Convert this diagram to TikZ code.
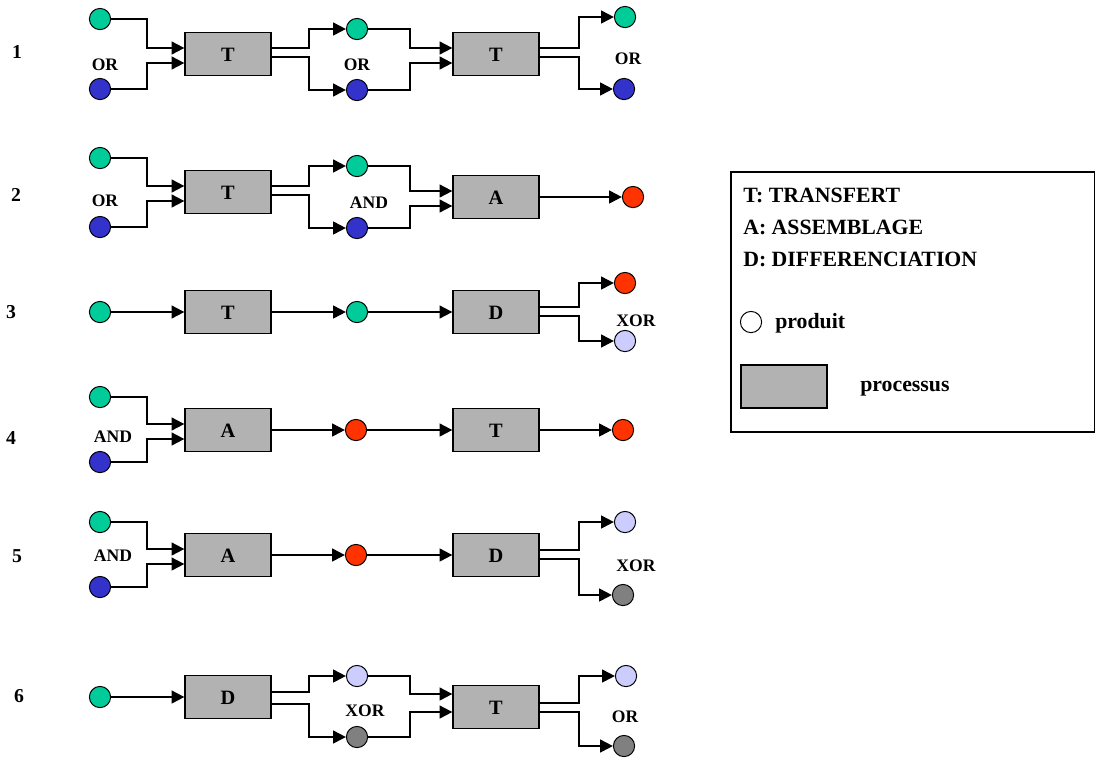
\documentclass[tikz,border=0pt]{standalone}
\usepackage{fontspec}
\setmainfont{Liberation Serif}
\usetikzlibrary{arrows.meta,calc}
\definecolor{vert}{RGB}{0,204,153}
\definecolor{bleu}{RGB}{51,51,204}
\definecolor{rouge}{RGB}{255,51,0}
\definecolor{lavande}{RGB}{204,204,255}
\definecolor{grisp}{RGB}{128,128,128}
\definecolor{grisbox}{RGB}{178,178,178}
\tikzset{
  prod/.style={circle,draw,line width=0.7pt,minimum size=5.3mm,inner sep=0pt},
  proc/.style={draw,line width=0.9pt,fill=grisbox,minimum width=21.5mm,
    minimum height=10.75mm,inner sep=0pt,text height=1.1em,text depth=0pt,
    font=\fontsize{14.5}{16}\selectfont\bfseries},
  fleche/.style={line width=1.4pt,-{Triangle[length=3.2mm,width=3.2mm]}},
  etiq/.style={font=\fontsize{12.5}{14}\selectfont\bfseries},
  num/.style={font=\fontsize{14}{16}\selectfont\bfseries},
  leg/.style={anchor=west,inner sep=0pt,font=\fontsize{15.5}{17}\selectfont\bfseries},
}

\begin{document}
\begin{tikzpicture}[x=0.025cm,y=-0.025cm]
  \useasboundingbox (0,0) rectangle (1096,758);
  % ligne 1
  \node[num] (n1) at (17,52) {1};
  \node[prod,fill=vert] (g11) at (100,19) {};
  \node[prod,fill=bleu] (b11) at (100,89) {};
  \node[etiq] (l11) at (105,65) {OR};
  \node[proc] (t11) at (228,54) {T};
  \node[prod,fill=vert] (g12) at (357,29) {};
  \node[prod,fill=bleu] (b12) at (357,90) {};
  \node[etiq] (l12) at (357,65) {OR};
  \node[proc] (t12) at (496,54) {T};
  \node[prod,fill=vert] (g13) at (625,17) {};
  \node[prod,fill=bleu] (b13) at (624,89) {};
  \node[etiq] (l13) at (628,59) {OR};
  \draw[fleche] (g11.east) -| ([xshift=-9.25mm,yshift=1.5mm]t11.west) -- ([yshift=1.5mm]t11.west);
  \draw[fleche] (b11.east) -| ([xshift=-9.25mm,yshift=-2.25mm]t11.west) -- ([yshift=-2.25mm]t11.west);
  \draw[fleche] ([yshift=1.5mm]t11.east) -- ++(9.25mm,0) |- (g12);
  \draw[fleche] ([yshift=-0.75mm]t11.east) -- ++(9.25mm,0) |- (b12);
  \draw[fleche] (g12.east) -| ([xshift=-10.5mm,yshift=1.5mm]t12.west) -- ([yshift=1.5mm]t12.west);
  \draw[fleche] (b12.east) -| ([xshift=-10.5mm,yshift=-2.25mm]t12.west) -- ([yshift=-2.25mm]t12.west);
  \draw[fleche] ([yshift=1.5mm]t12.east) -- ++(9.75mm,0) |- (g13);
  \draw[fleche] ([yshift=-0.75mm]t12.east) -- ++(9.75mm,0) |- (b13);
  % ligne 2
  \node[num] (n2) at (16,195) {2};
  \node[prod,fill=vert] (g21) at (100,158) {};
  \node[prod,fill=bleu] (b21) at (100,227) {};
  \node[etiq] (l21) at (105,201) {OR};
  \node[proc] (t21) at (228,192) {T};
  \node[prod,fill=vert] (g22) at (357,166) {};
  \node[prod,fill=bleu] (b22) at (357,228) {};
  \node[etiq] (l22) at (369,203) {AND};
  \node[proc] (a22) at (496,197) {A};
  \node[prod,fill=rouge] (r23) at (633,197) {};
  \draw[fleche] (g21.east) -| ([xshift=-9.25mm,yshift=1.5mm]t21.west) -- ([yshift=1.5mm]t21.west);
  \draw[fleche] (b21.east) -| ([xshift=-9.25mm,yshift=-2.25mm]t21.west) -- ([yshift=-2.25mm]t21.west);
  \draw[fleche] ([yshift=1.5mm]t21.east) -- ++(9.25mm,0) |- (g22);
  \draw[fleche] ([yshift=-0.75mm]t21.east) -- ++(9.25mm,0) |- (b22);
  \draw[fleche] (g22.east) -| ([xshift=-10.5mm,yshift=1.5mm]a22.west) -- ([yshift=1.5mm]a22.west);
  \draw[fleche] (b22.east) -| ([xshift=-10.5mm,yshift=-2.25mm]a22.west) -- ([yshift=-2.25mm]a22.west);
  \draw[fleche] (a22) -- (r23);
  % ligne 3
  \node[num] (n3) at (11,312) {3};
  \node[prod,fill=vert] (g31) at (100,312) {};
  \node[proc] (t31) at (228,312) {T};
  \node[prod,fill=vert] (g32) at (357,312) {};
  \node[proc] (d32) at (496,312) {D};
  \node[prod,fill=rouge] (r33) at (625,283) {};
  \node[prod,fill=lavande] (v33) at (625,341) {};
  \node[etiq] (l33) at (636,321) {XOR};
  \draw[fleche] (g31) -- (t31);
  \draw[fleche] (t31) -- (g32);
  \draw[fleche] (g32) -- (d32);
  \draw[fleche] ([yshift=1.25mm]d32.east) -- ++(9.75mm,0) |- (r33);
  \draw[fleche] ([yshift=-1mm]d32.east) -- ++(9.75mm,0) |- (v33);
  % ligne 4
  \node[num] (n4) at (11,438) {4};
  \node[prod,fill=vert] (g41) at (100,397) {};
  \node[prod,fill=bleu] (b41) at (100,462) {};
  \node[etiq] (l41) at (113,437) {AND};
  \node[proc] (a41) at (228,430) {A};
  \node[prod,fill=rouge] (r42) at (356,430) {};
  \node[proc] (t42) at (496,430) {T};
  \node[prod,fill=rouge] (r43) at (623,430) {};
  \draw[fleche] (g41.east) -| ([xshift=-9.25mm,yshift=1.5mm]a41.west) -- ([yshift=1.5mm]a41.west);
  \draw[fleche] (b41.east) -| ([xshift=-9.25mm,yshift=-2.25mm]a41.west) -- ([yshift=-2.25mm]a41.west);
  \draw[fleche] (a41) -- (r42);
  \draw[fleche] (r42) -- (t42);
  \draw[fleche] (t42) -- (r43);
  % ligne 5
  \node[num] (n5) at (17,556) {5};
  \node[prod,fill=vert] (g51) at (100,522) {};
  \node[prod,fill=bleu] (b51) at (100,587) {};
  \node[etiq] (l51) at (113,556) {AND};
  \node[proc] (a51) at (228,555) {A};
  \node[prod,fill=rouge] (r52) at (356,555) {};
  \node[proc] (d52) at (496,555) {D};
  \node[prod,fill=lavande] (v53) at (625,522) {};
  \node[prod,fill=grisp] (k53) at (623,595) {};
  \node[etiq] (l53) at (636,566) {XOR};
  \draw[fleche] (g51.east) -| ([xshift=-9.25mm,yshift=1.5mm]a51.west) -- ([yshift=1.5mm]a51.west);
  \draw[fleche] (b51.east) -| ([xshift=-9.25mm,yshift=-2.25mm]a51.west) -- ([yshift=-2.25mm]a51.west);
  \draw[fleche] (a51) -- (r52);
  \draw[fleche] (r52) -- (d52);
  \draw[fleche] ([yshift=1.25mm]d52.east) -- ++(9.75mm,0) |- (v53);
  \draw[fleche] ([yshift=-1mm]d52.east) -- ++(9.75mm,0) |- (k53);
  % ligne 6
  \node[num] (n6) at (19,696) {6};
  \node[prod,fill=vert] (g61) at (100,697) {};
  \node[proc] (d61) at (228,697) {D};
  \node[prod,fill=lavande] (v62) at (357,676) {};
  \node[prod,fill=grisp] (k62) at (357,737) {};
  \node[etiq] (l62) at (365,711) {XOR};
  \node[proc] (t62) at (496,707) {T};
  \node[prod,fill=lavande] (v63) at (626,676) {};
  \node[prod,fill=grisp] (k63) at (624,746) {};
  \node[etiq] (l63) at (625,717) {OR};
  \draw[fleche] (g61) -- (d61);
  \draw[fleche] ([yshift=1.25mm]d61.east) -- ++(9.25mm,0) |- (v62);
  \draw[fleche] ([yshift=-1.75mm]d61.east) -- ++(9.25mm,0) |- (k62);
  \draw[fleche] (v62.east) -| ([xshift=-10.5mm,yshift=3.25mm]t62.west) -- ([yshift=3.25mm]t62.west);
  \draw[fleche] (k62.east) -| ([xshift=-10.5mm,yshift=-1.25mm]t62.west) -- ([yshift=-1.25mm]t62.west);
  \draw[fleche] ([yshift=1mm]t62.east) -- ++(9.75mm,0) |- (v63);
  \draw[fleche] ([yshift=-1.25mm]t62.east) -- ++(9.75mm,0) |- (k63);
  % legende
  \draw[line width=0.9pt] (731,172) rectangle (1094.5,432);
  \node[leg] (lt) at (743,195) {T: TRANSFERT};
  \node[leg] (la) at (743,227) {A: ASSEMBLAGE};
  \node[leg] (ld) at (743,259) {D: DIFFERENCIATION};
  \node[prod,fill=white] (lc) at (751,322) {};
  \node[leg] (lp) at (775,323) {produit};
  \node[proc] (lr) at (784,386.5) {};
  \node[leg] (lq) at (860,389) {processus};
\end{tikzpicture}
\end{document}
